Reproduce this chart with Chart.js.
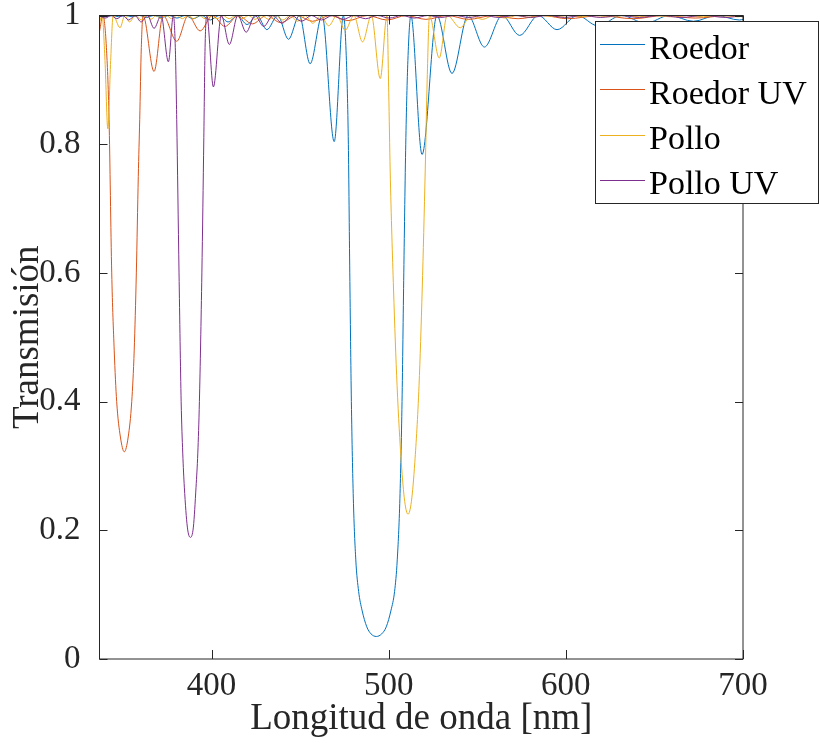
<!DOCTYPE html>
<html>
<head>
<meta charset="utf-8">
<script src="https://cdn.jsdelivr.net/npm/chart.js@4.4.1/dist/chart.umd.min.js"></script>
<style>
  html, body { margin: 0; padding: 0; background: #fff; }
  #wrap { position: relative; width: 820px; height: 743px; }
</style>
</head>
<body>
<div id="wrap"><canvas id="chart" width="820" height="743"></canvas></div>
<script>
// Transmission spectra, [wavelength (nm), transmission]
const roedor = [
  [336.7, 0.999], [340.2, 0.998], [344, 1.0], [347.6, 0.998], [351.4, 1.0], [355.2, 0.998],
  [359.2, 1.0], [363.2, 0.997], [367.4, 1.0], [371.6, 0.997], [376, 1.0], [380.4, 0.996],
  [385, 1.0], [389.5, 0.995], [394.3, 1.0], [399.2, 0.993], [404.2, 1.0], [409.3, 0.99],
  [414.6, 1.0], [420, 0.986], [425.6, 1.0], [431.2, 0.978], [437.3, 1.0], [443.4, 0.963],
  [449.5, 1.0], [455.6, 0.925], [462.4, 1.0], [469.2, 0.804], [474.4, 1.0], [476.1, 0.93],
  [477.2, 0.8], [478, 0.6], [478.9, 0.4], [480, 0.25], [481.4, 0.154], [483, 0.105],
  [484.9, 0.076], [487.6, 0.05], [490, 0.039], [493, 0.035], [496, 0.039], [498.6, 0.05],
  [501.3, 0.076], [503.3, 0.105], [504.8, 0.154], [506.3, 0.25], [507.5, 0.4], [508.5, 0.6],
  [509.6, 0.8], [510.8, 0.93], [512.5, 1.0], [518.8, 0.784], [527.2, 1.0], [535.7, 0.91],
  [544.8, 1.0], [554, 0.951], [564, 1.0], [573.9, 0.969], [584.4, 1.0], [595, 0.978],
  [606.5, 1.0], [618, 0.984], [631.5, 1.0], [645, 0.988], [658.5, 1.0], [672, 0.991],
  [685, 1.0], [698, 0.993], [700, 0.994]
];
const roedorUV = [
  [336.7, 0.975], [338.6, 1.0], [340.6, 0.95], [342.1, 0.838], [343.6, 0.6], [345, 0.48],
  [346.4, 0.4], [348.5, 0.345], [350.7, 0.322], [352.9, 0.345], [354.9, 0.4], [356.3, 0.48],
  [357.5, 0.6], [358.6, 0.75], [359.4, 0.838], [360.3, 0.95], [361.3, 1.0], [367.5, 0.913],
  [372.6, 1.0], [380.3, 0.96], [386.8, 1.0], [393.5, 0.976], [400.5, 1.0], [407.5, 0.983],
  [415, 1.0], [423, 0.987], [431, 1.0], [439, 0.989], [448, 1.0], [457, 0.991],
  [467, 1.0], [477, 0.992], [488, 1.0], [499, 0.993], [510, 1.0], [521, 0.994],
  [533, 1.0], [545, 0.994], [559, 1.0], [573, 0.995], [587, 1.0], [601, 0.995],
  [619, 1.0], [638, 0.995], [655.5, 1.0], [673, 0.996], [692, 1.0], [700, 0.998]
];
const pollo = [
  [336.7, 0.99], [338.2, 1.0], [339.8, 0.93], [341.4, 0.824], [343, 0.93], [344.4, 1.0],
  [348.3, 0.981], [351, 1.0], [353.6, 0.99], [357, 1.0], [360.3, 0.993], [363, 1.0],
  [365.8, 0.994], [368.6, 1.0], [371.5, 0.995], [374.5, 1.0], [377.4, 0.995], [380.4, 1.0],
  [383.5, 0.995], [386.6, 1.0], [389.8, 0.995], [393, 1.0], [396.3, 0.995], [399.6, 1.0],
  [403, 0.995], [406.4, 1.0], [409.9, 0.995], [413.5, 1.0], [417.1, 0.995], [420.8, 1.0],
  [424.5, 0.994], [428.3, 1.0], [432.2, 0.994], [436.2, 1.0], [440.2, 0.993], [444.3, 1.0],
  [448.5, 0.991], [452.8, 1.0], [457.1, 0.988], [461.6, 1.0], [466.1, 0.984], [470.7, 1.0],
  [475.4, 0.977], [480.3, 1.0], [485.2, 0.959], [490.2, 1.0], [495.2, 0.902], [499, 1.0],
  [500, 0.88], [500.8, 0.76], [502.7, 0.575], [504.7, 0.425], [507.1, 0.305], [509, 0.245],
  [510.9, 0.225], [512.8, 0.245], [514.7, 0.305], [517.1, 0.425], [518.9, 0.575], [520.6, 0.76],
  [521.7, 0.9], [523, 1.0], [528.5, 0.934], [533, 1.0], [540.4, 0.981], [546.5, 1.0],
  [552.8, 0.994], [559.3, 1.0], [565.8, 0.996], [572.6, 1.0], [579.5, 0.997], [586.6, 1.0],
  [593.8, 0.998], [601.3, 1.0], [608.8, 0.998], [616.7, 1.0], [624.6, 0.998], [633, 1.0],
  [641.3, 0.998], [650, 1.0], [658.9, 0.998], [668, 1.0], [677.5, 0.998], [687, 1.0],
  [697.1, 0.998], [700, 0.999]
];
const polloUV = [
  [336.7, 0.999], [340, 0.996], [343.2, 1.0], [346.5, 0.995], [349.8, 1.0], [353.2, 0.993],
  [356.7, 1.0], [360.2, 0.99], [363.8, 1.0], [367.5, 0.98], [371.5, 1.0], [375.6, 0.928],
  [378.4, 1.0], [379.5, 0.95], [380.3, 0.838], [381.6, 0.6], [382.8, 0.4], [383.7, 0.32],
  [384.6, 0.267], [386.3, 0.205], [388, 0.189], [389.7, 0.205], [391.2, 0.267], [392.2, 0.32],
  [393.1, 0.4], [394.5, 0.6], [395.6, 0.81], [396.3, 0.95], [397.3, 1.0], [401, 0.889],
  [405.5, 1.0], [410, 0.955], [414.8, 1.0], [419.5, 0.974], [424.5, 1.0], [429.4, 0.983],
  [434.6, 1.0], [439.8, 0.988], [445.2, 1.0], [450.7, 0.991], [456.4, 1.0], [462.1, 0.993],
  [468.2, 1.0], [474.2, 0.994], [480.5, 1.0], [486.9, 0.995], [493.6, 1.0], [500.3, 0.996],
  [507.4, 1.0], [514.5, 0.996], [522, 1.0], [529.4, 0.997], [537.3, 1.0], [545.3, 0.997],
  [553.7, 1.0], [562.2, 0.997], [571.2, 1.0], [580.1, 0.997], [589.6, 1.0], [599.2, 0.997],
  [609.5, 1.0], [619.7, 0.997], [630.6, 1.0], [641.5, 0.997], [653.2, 1.0], [665, 0.997],
  [677.6, 1.0], [690.2, 0.997], [700, 1.0]
];

const seriesNames = ['Roedor', 'Roedor UV', 'Pollo', 'Pollo UV'];
const seriesColors = ['#0072BD', '#D95319', '#EDB120', '#7E2F8E'];
const xTicks = [400, 500, 600, 700];
const yTicks = [0, 0.2, 0.4, 0.6, 0.8, 1];
const xMin = 336.7, xMax = 700;

const AXIS_COLOR = '#262626';
const FONT = '"Liberation Serif", "Times New Roman", serif';

// MATLAB style box with inward ticks on all four sides
const axisBox = {
    id: 'axisBox',
    afterDatasetsDraw(chart) {
        const { ctx, chartArea: a, scales } = chart;
        ctx.save();
        ctx.strokeStyle = AXIS_COLOR;
        ctx.lineWidth = 1;
        ctx.beginPath();
        xTicks.forEach(v => {
            const px = Math.round(scales.x.getPixelForValue(v)) + 0.5;
            ctx.moveTo(px, a.bottom); ctx.lineTo(px, a.bottom - 9);
            ctx.moveTo(px, a.top); ctx.lineTo(px, a.top + 9);
        });
        yTicks.forEach(v => {
            const py = Math.round(scales.y.getPixelForValue(v)) + 0.5;
            ctx.moveTo(a.left, py); ctx.lineTo(a.left + 8, py);
            ctx.moveTo(a.right, py); ctx.lineTo(a.right - 8, py);
        });
        ctx.stroke();
        ctx.strokeRect(a.left, a.top, a.right - a.left, a.bottom - a.top);
        ctx.restore();
    }
};

// Legend box sits over the top right corner, partly outside the axes
const boxLegend = {
    id: 'boxLegend',
    afterDraw(chart) {
        const { ctx } = chart;
        const left = 595.5, top = 21.5, right = 818.5, bottom = 203.5;
        const rowStep = 45.3, firstBaseline = 58.5;
        ctx.save();
        ctx.fillStyle = '#ffffff';
        ctx.fillRect(left, top, right - left, bottom - top);
        ctx.strokeStyle = AXIS_COLOR;
        ctx.lineWidth = 1;
        ctx.strokeRect(left, top, right - left, bottom - top);
        ctx.font = '34px ' + FONT;
        ctx.textBaseline = 'alphabetic';
        ctx.textAlign = 'left';
        chart.data.datasets.forEach((ds, i) => {
            const base = firstBaseline + i * rowStep;
            const ly = Math.round(base - 14.5) + 0.5;
            ctx.strokeStyle = ds.borderColor;
            ctx.beginPath();
            ctx.moveTo(600, ly);
            ctx.lineTo(645, ly);
            ctx.stroke();
            ctx.fillStyle = '#000000';
            ctx.fillText(ds.label, 649, base);
        });
        ctx.restore();
    }
};

const series = [roedor, roedorUV, pollo, polloUV];
const datasets = series.map((pts, i) => ({
    label: seriesNames[i],
    data: pts.map(p => ({ x: p[0], y: p[1] })),
    borderColor: seriesColors[i],
    backgroundColor: seriesColors[i],
    borderWidth: 1,
    pointRadius: 0,
    fill: false,
    cubicInterpolationMode: 'monotone',
    order: series.length - i
}));

new Chart(document.getElementById('chart'), {
    type: 'line',
    data: { datasets },
    options: {
        responsive: false,
        animation: false,
        devicePixelRatio: 1,
        layout: { padding: { top: 15.5, right: 77, bottom: 0, left: 0 } },
        plugins: {
            legend: { display: false },
            tooltip: { enabled: false }
        },
        scales: {
            x: {
                type: 'linear',
                min: xMin,
                max: xMax,
                afterBuildTicks: s => { s.ticks = xTicks.map(v => ({ value: v })); },
                afterFit: s => { s.height = 84; s.paddingLeft = 0; s.paddingRight = 0; },
                grid: { display: false },
                border: { display: false },
                ticks: {
                    color: AXIS_COLOR,
                    font: { family: FONT, size: 33 },
                    padding: 0,
                    maxRotation: 0,
                    callback: v => String(v)
                },
                title: {
                    display: true,
                    text: 'Longitud de onda [nm]',
                    color: AXIS_COLOR,
                    font: { family: FONT, size: 37 },
                    padding: { top: 0, bottom: 2 }
                }
            },
            y: {
                type: 'linear',
                min: 0,
                max: 1,
                afterBuildTicks: s => { s.ticks = yTicks.map(v => ({ value: v })); },
                afterFit: s => { s.width = 99.5; s.paddingTop = 0; s.paddingBottom = 0; },
                grid: { display: false },
                border: { display: false },
                ticks: {
                    color: AXIS_COLOR,
                    font: { family: FONT, size: 33 },
                    padding: 11,
                    callback: v => String(v)
                },
                title: {
                    display: true,
                    text: 'Transmisión',
                    color: AXIS_COLOR,
                    font: { family: FONT, size: 37 },
                    padding: { top: 6, bottom: 0 }
                }
            }
        }
    },
    plugins: [axisBox, boxLegend]
});
</script>
</body>
</html>
